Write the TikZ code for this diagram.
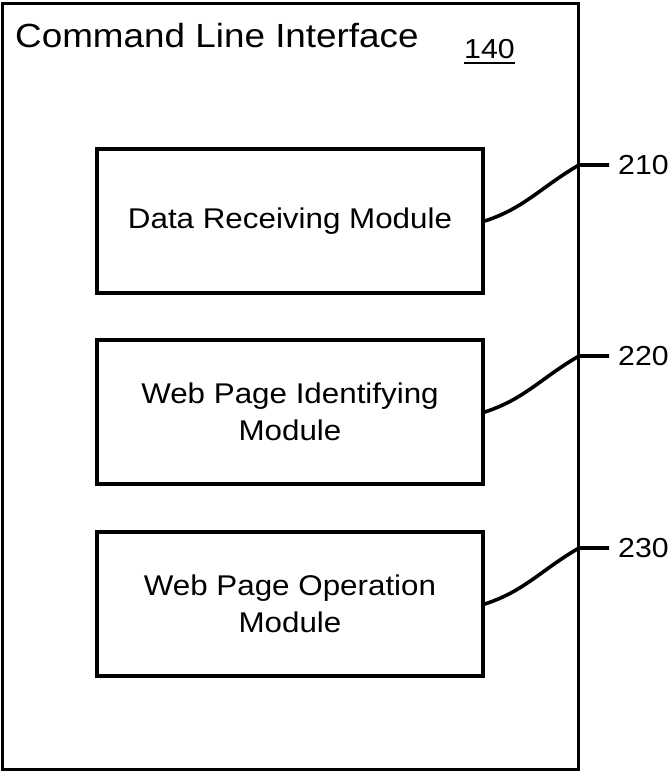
\documentclass[tikz,border=0pt]{standalone}
\usepackage{fontspec}
\setmainfont{Liberation Sans}[FakeStretch=1.1]
\begin{document}
\begin{tikzpicture}[x=1pt,y=-1pt,
  framebox/.style={draw,line width=3.4pt},
  modbox/.style={draw,line width=3.6pt,minimum width=386pt,minimum height=144pt,inner sep=0pt,align=center,font=\fontsize{28.5}{37}\selectfont},
  lead/.style={line width=3.6pt},
  reflabel/.style={anchor=west,inner sep=0pt,font=\fontsize{27.5}{33}\selectfont}]
\useasboundingbox (0,0) rectangle (670,772);
% outer frame
\coordinate (fa) at (2.5,3.5);
\coordinate (fb) at (578.5,769.5);
\draw[framebox] (fa) rectangle (fb);
% title and reference number
\node[anchor=base west,inner sep=0pt,font=\fontsize{33.5}{40}\selectfont] (title) at (15,47) {Command Line Interface};
\node[anchor=base west,inner sep=0pt,font=\fontsize{27.5}{33}\selectfont] (num) at (464,58.5) {140};
\draw[line width=2.8pt] ([yshift=-4.5pt]num.base west) -- ([yshift=-4.5pt]num.base east);
% modules
\node[modbox] (m1) at (290,221) {Data Receiving Module};
\node[modbox] (m2) at (290,412) {Web Page Identifying\\Module};
\node[modbox] (m3) at (290,604) {Web Page Operation\\Module};
% leader lines and labels
\coordinate (j1) at (579,165); \coordinate (t1) at (609,165);
\coordinate (j2) at (579,356); \coordinate (t2) at (609,356);
\coordinate (j3) at (579,548); \coordinate (t3) at (609,548);
\node[reflabel] (l1) at (618,165) {210};
\node[reflabel] (l2) at (618,356) {220};
\node[reflabel] (l3) at (618,548) {230};
\draw[lead] (m1.east) .. controls +(40,-13) and +(-38,22) .. (j1) -- (t1);
\draw[lead] (m2.east) .. controls +(40,-13) and +(-38,22) .. (j2) -- (t2);
\draw[lead] (m3.east) .. controls +(40,-13) and +(-38,22) .. (j3) -- (t3);
\end{tikzpicture}
\end{document}
